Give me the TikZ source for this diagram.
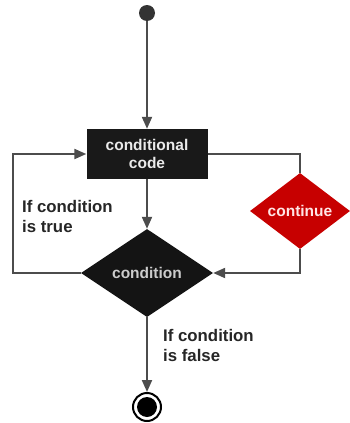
\documentclass[tikz,border=0pt]{standalone}
\usepackage{fontspec}
\setmainfont{Liberation Sans}
\usetikzlibrary{shapes.geometric,arrows.meta}
\begin{document}
\begin{tikzpicture}[x=1pt,y=-1pt,
  flow/.style={draw=black!70,line width=2pt,-{Triangle[length=12pt,width=10pt]}},
  loopline/.style={draw=black!70,line width=2pt},
  nodetext/.style={font=\bfseries\fontsize{15.5}{18}\selectfont,align=center},
  codebox/.style={nodetext,fill=black!90,text=black!8,minimum width=121pt,minimum height=50pt,inner sep=0pt},
  testshape/.style={nodetext,diamond,fill=black!92,text=black!20,minimum width=132pt,minimum height=88pt,inner sep=0pt},
  redshape/.style={nodetext,diamond,fill=red!78!black,text=red!10,minimum width=100pt,minimum height=62pt,inner sep=0pt},
  label/.style={font=\bfseries\fontsize{16.8}{20}\selectfont,align=left,text=black!85,inner sep=0pt,anchor=north west}
]
\useasboundingbox (0,0) rectangle (349,423);
\fill[white] (0,0) rectangle (349,423);

% start and end markers
\node[circle,fill=black!80,minimum size=16pt,inner sep=0pt] (start) at (147,13) {};
\node[circle,draw=black,line width=2pt,fill=white,minimum size=28pt,inner sep=0pt] (stop) at (147,407) {};
\fill[black] (stop.center) circle (10pt);

% main blocks
\node[codebox] (code) at (147,154) {conditional\\code};
\node[testshape] (cond) at (147,273) {condition};
\node[redshape] (cont) at (300,211) {continue};

% connectors
\draw[flow] (start) -- (code.north);
\draw[flow] (code.south) -- (cond.north);
\draw[flow] (cond.south) -- (stop.north);
\draw[flow] (cond.west) -- (13,273) |- (code.west);
\draw[loopline] (code.east) -| (cont.north);
\draw[flow] (cont.south) |- (cond.east);

% branch labels
\node[label] (truelbl) at (22,200) {If condition\\is true};
\node[label] (falselbl) at (163,329) {If condition\\is false};
\end{tikzpicture}
\end{document}
